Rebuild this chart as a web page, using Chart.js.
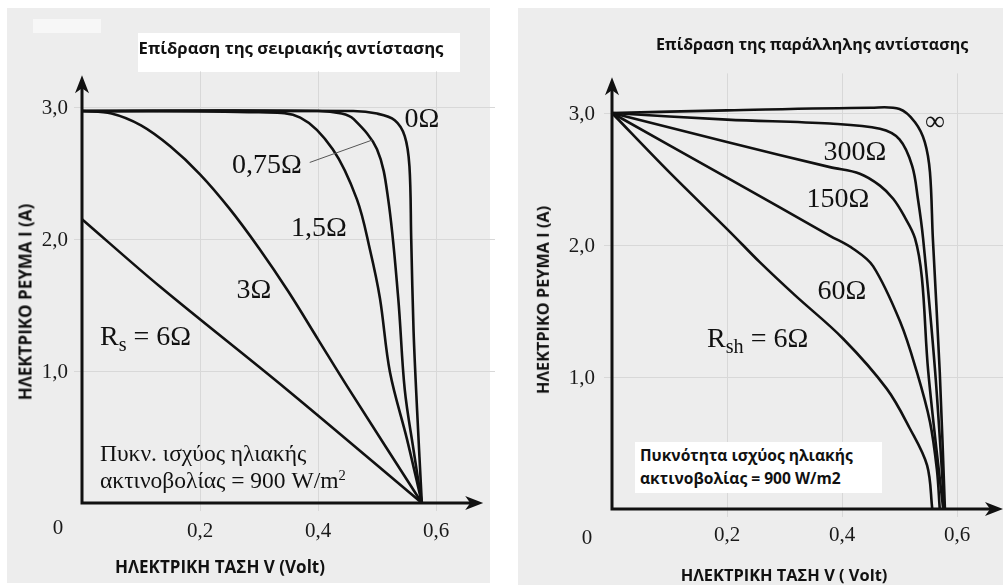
<!DOCTYPE html>
<html lang="el">
<head>
<meta charset="utf-8">
<title>Επίδραση αντιστάσεων</title>
<script src="https://cdn.jsdelivr.net/npm/chart.js@4.4.1/dist/chart.umd.min.js"></script>
<style>
  html, body { margin: 0; padding: 0; background: #fff; }
  body { width: 1003px; height: 585px; position: relative; overflow: hidden; font-family: "Liberation Serif", "Times New Roman", serif; }
  .panel { position: absolute; background: #ededed; }
  .box { position: absolute; background: #fff; }
  canvas { position: absolute; top: 0; }
  .t { position: absolute; white-space: nowrap; color: #111; line-height: 1; transform: translate(-50%, -50%); z-index: 5; }
  .left { transform: translate(0, -50%); }
  .sans { font-family: "Open Sans", sans-serif; font-weight: 700; }
  .lbl { font-size: 28px; }
  .note { font-size: 23.5px; }
  .vert { transform: translate(-50%, -50%) rotate(-90deg); }
  sub { font-size: 0.72em; vertical-align: -0.3em; line-height: 0; }
  sup { font-size: 0.62em; vertical-align: 0.55em; line-height: 0; }
</style>
</head>
<body>
<div class="panel" style="left:7px; top:8px; width:483px; height:575px;"></div>
<div class="panel" style="left:518px; top:8px; width:485px; height:577px;"></div>
<div class="box" style="left:138px; top:33px; width:322px; height:39px;"></div>
<div class="box" style="left:33px; top:19px; width:68px; height:14px; background:#f7f7f7;"></div>
<div class="box" style="left:635px; top:442px; width:247px; height:51px; z-index:4;"></div>

<canvas id="seriesChart" width="500" height="585" style="left:0;"></canvas>
<canvas id="shuntChart" width="503" height="585" style="left:500px;"></canvas>

<!-- left panel texts -->
<div class="t sans" style="left:291px; top:48px; font-size:16.7px;">Επίδραση της σειριακής αντίστασης</div>
<div class="t sans vert" style="left:25px; top:302px; font-size:17px;">ΗΛΕΚΤΡΙΚΟ ΡΕΥΜΑ Ι (Α)</div>
<div class="t sans" style="left:220px; top:566px; font-size:17px;">ΗΛΕΚΤΡΙΚΗ ΤΑΣΗ V (Volt)</div>
<div class="t lbl" style="left:422px; top:118px;">0Ω</div>
<div class="t lbl" style="left:267px; top:164px;">0,75Ω</div>
<div class="t lbl" style="left:319px; top:227px;">1,5Ω</div>
<div class="t lbl" style="left:254px; top:289px;">3Ω</div>
<div class="t lbl left" style="left:100px; top:336px;">R<sub>s</sub> = 6Ω</div>
<div class="t note left" style="left:100px; top:454px;">Πυκν. ισχύος ηλιακής</div>
<div class="t note left" style="left:100px; top:481px;">ακτινοβολίας = 900 W/m<sup>2</sup></div>

<!-- right panel texts -->
<div class="t sans" style="left:812px; top:44px; font-size:16px;">Επίδραση της παράλληλης αντίστασης</div>
<div class="t sans vert" style="left:543px; top:300px; font-size:16.3px;">ΗΛΕΚΤΡΙΚΟ ΡΕΥΜΑ Ι (Α)</div>
<div class="t sans" style="left:784px; top:575px; font-size:16.4px;">ΗΛΕΚΤΡΙΚΗ ΤΑΣΗ V ( Volt)</div>
<div class="t lbl" style="left:935px; top:121px;">∞</div>
<div class="t lbl" style="left:855px; top:151px;">300Ω</div>
<div class="t lbl" style="left:838px; top:198px;">150Ω</div>
<div class="t lbl" style="left:842px; top:290px;">60Ω</div>
<div class="t lbl left" style="left:707px; top:338px;">R<sub>sh</sub> = 6Ω</div>
<div class="t sans left" style="left:640px; top:456px; font-size:15.6px;">Πυκνότητα ισχύος ηλιακής</div>
<div class="t sans left" style="left:640px; top:479px; font-size:15.6px;">ακτινοβολίας = 900 W/m2</div>

<script>
// ---- tick values / labels ----
const xTicks = [0.2, 0.4, 0.6];
const xTickLabels = ['0,2', '0,4', '0,6'];
const yTicks = [1, 2, 3];
const yTickLabels = ['1,0', '2,0', '3,0'];

// ---- series resistance (left) : voltage V, current I ----
const rs0V   = [0, 0.46, 0.50, 0.53, 0.547, 0.555, 0.558, 0.562, 0.568, 0.576];
const rs0I   = [2.97, 2.97, 2.95, 2.90, 2.78, 2.55, 2.0, 1.3, 0.7, 0];
const rs075V = [0, 0.40, 0.44, 0.46, 0.50, 0.519, 0.536, 0.547, 0.562, 0.576];
const rs075I = [2.97, 2.97, 2.95, 2.91, 2.68, 2.30, 1.55, 0.86, 0.40, 0];
const rs15V  = [0, 0.30, 0.37, 0.425, 0.466, 0.488, 0.505, 0.522, 0.551, 0.576];
const rs15I  = [2.97, 2.96, 2.92, 2.68, 2.30, 1.92, 1.55, 0.99, 0.48, 0];
const rs3V   = [0, 0.05, 0.10, 0.15, 0.20, 0.25, 0.30, 0.35, 0.40, 0.45, 0.576];
const rs3I   = [2.97, 2.95, 2.86, 2.70, 2.49, 2.23, 1.93, 1.60, 1.24, 0.88, 0];
const rs6V   = [0, 0.132, 0.347, 0.576];
const rs6I   = [2.15, 1.64, 0.86, 0];

// ---- shunt resistance (right) ----
const rshInfV = [0, 0.2, 0.45, 0.50, 0.527, 0.544, 0.553, 0.558, 0.570, 0.579];
const rshInfI = [3.0, 3.02, 3.04, 3.03, 2.93, 2.78, 2.55, 2.05, 1.04, 0];
const rsh300V = [0, 0.2, 0.379, 0.466, 0.50, 0.522, 0.532, 0.541, 0.562, 0.578];
const rsh300I = [3.0, 2.95, 2.92, 2.88, 2.80, 2.60, 2.35, 2.05, 1.04, 0];
const rsh150V = [0, 0.2, 0.379, 0.431, 0.466, 0.489, 0.508, 0.527, 0.539, 0.55, 0.576];
const rsh150I = [3.0, 2.78, 2.59, 2.54, 2.45, 2.35, 2.22, 2.05, 1.75, 1.04, 0];
const rsh60V  = [0, 0.2, 0.379, 0.42, 0.454, 0.501, 0.530, 0.553, 0.565, 0.570];
const rsh60I  = [3.0, 2.51, 2.07, 1.97, 1.84, 1.42, 1.04, 0.66, 0.30, 0];
const rsh6V   = [0, 0.1, 0.205, 0.257, 0.318, 0.402, 0.478, 0.518, 0.548, 0.557];
const rsh6I   = [3.0, 2.55, 2.10, 1.87, 1.62, 1.29, 0.91, 0.61, 0.33, 0];

function curve(vs, is) {
    return {
        data: vs.map((v, k) => ({ x: v, y: is[k] })),
        showLine: true,
        borderColor: '#111',
        borderWidth: 2.6,
        pointRadius: 0,
        tension: 0.35,
        clip: false
    };
}

function arrowHead(ctx, x, y, dir) {
    // dir: 'up' or 'right'
    ctx.beginPath();
    if (dir === 'up') {
        ctx.moveTo(x, y);
        ctx.lineTo(x + 7, y + 18);
        ctx.lineTo(x, y + 13);
        ctx.lineTo(x - 7, y + 18);
    } else {
        ctx.moveTo(x, y);
        ctx.lineTo(x - 18, y - 7);
        ctx.lineTo(x - 13, y);
        ctx.lineTo(x - 18, y + 7);
    }
    ctx.closePath();
    ctx.fill();
}

// axes with arrows, faint grid, tick marks and tick labels
const axesPlugin = {
    id: 'axes',
    beforeDatasetsDraw(chart, args, o) {
        const { ctx, chartArea } = chart;
        const sx = chart.scales.x, sy = chart.scales.y;
        const x0 = sx.getPixelForValue(0), y0 = sy.getPixelForValue(0);
        ctx.save();
        ctx.strokeStyle = '#d8d8d8';
        ctx.lineWidth = 1;
        xTicks.forEach(v => {
            const px = Math.round(sx.getPixelForValue(v)) + 0.5;
            ctx.beginPath();
            ctx.moveTo(px, y0 + 8);
            ctx.lineTo(px, sy.getPixelForValue(o.gridTop));
            ctx.stroke();
        });
        yTicks.forEach(v => {
            const py = Math.round(sy.getPixelForValue(v)) + 0.5;
            ctx.beginPath();
            ctx.moveTo(x0 - 8, py);
            ctx.lineTo(chartArea.right, py);
            ctx.stroke();
        });
        ctx.restore();
    },
    afterDatasetsDraw(chart, args, o) {
        const { ctx } = chart;
        const sx = chart.scales.x, sy = chart.scales.y;
        const x0 = sx.getPixelForValue(0), y0 = sy.getPixelForValue(0);
        const xTip = sx.getPixelForValue(o.xArrow), yTip = sy.getPixelForValue(o.yArrow);
        ctx.save();
        ctx.strokeStyle = '#111';
        ctx.fillStyle = '#111';
        ctx.lineWidth = 3;
        ctx.beginPath();
        ctx.moveTo(x0, y0 + 1.5);
        ctx.lineTo(x0, yTip + 10);
        ctx.moveTo(x0 - 1.5, y0);
        ctx.lineTo(xTip - 10, y0);
        ctx.stroke();
        arrowHead(ctx, x0, yTip, 'up');
        arrowHead(ctx, xTip, y0, 'right');

        ctx.font = '21px "Liberation Serif", serif';
        ctx.fillStyle = '#1a1a1a';
        ctx.textBaseline = 'middle';
        ctx.textAlign = 'right';
        yTicks.forEach((v, k) => {
            ctx.fillText(yTickLabels[k], x0 - o.yLabelGap, sy.getPixelForValue(v) + 1);
        });
        ctx.textAlign = 'center';
        xTicks.forEach((v, k) => {
            ctx.fillText(xTickLabels[k], sx.getPixelForValue(v), y0 + o.xLabelGap);
        });
        ctx.fillText('0', x0 - o.zeroDx, y0 + o.zeroDy);

        if (o.leader) {
            ctx.strokeStyle = '#555';
            ctx.lineWidth = 1;
            ctx.beginPath();
            ctx.moveTo(sx.getPixelForValue(o.leader[0]), sy.getPixelForValue(o.leader[1]));
            ctx.lineTo(sx.getPixelForValue(o.leader[2]), sy.getPixelForValue(o.leader[3]));
            ctx.stroke();
        }
        ctx.restore();
    }
};

function makeChart(id, datasets, pad, xMax, o) {
    return new Chart(document.getElementById(id).getContext('2d'), {
        type: 'scatter',
        data: { datasets: datasets },
        plugins: [axesPlugin],
        options: {
            responsive: false,
            animation: false,
            devicePixelRatio: 1,
            layout: { padding: pad },
            plugins: { legend: { display: false }, tooltip: { enabled: false }, axes: o },
            scales: {
                x: { type: 'linear', min: 0, max: xMax, display: false },
                y: { type: 'linear', min: 0, max: 3.5, display: false }
            }
        }
    });
}

makeChart('seriesChart', [
    curve(rs0V, rs0I),
    curve(rs075V, rs075I),
    curve(rs15V, rs15I),
    curve(rs3V, rs3I),
    curve(rs6V, rs6I)
], { left: 82, right: 5, top: 41, bottom: 82 }, 0.7,
   { xArrow: 0.68, yArrow: 3.24, gridTop: 3.27, yLabelGap: 14, xLabelGap: 28, zeroDx: 24, zeroDy: 25,
     leader: [0.386, 2.58, 0.492, 2.75] });

makeChart('shuntChart', [
    curve(rshInfV, rshInfI),
    curve(rsh300V, rsh300I),
    curve(rsh150V, rsh150I),
    curve(rsh60V, rsh60I),
    curve(rsh6V, rsh6I)
], { left: 112, right: 0, top: 47, bottom: 76 }, 0.68,
   { xArrow: 0.68, yArrow: 3.27, gridTop: 3.3, yLabelGap: 17, xLabelGap: 26, zeroDx: 25, zeroDy: 29 });
</script>
</body>
</html>
